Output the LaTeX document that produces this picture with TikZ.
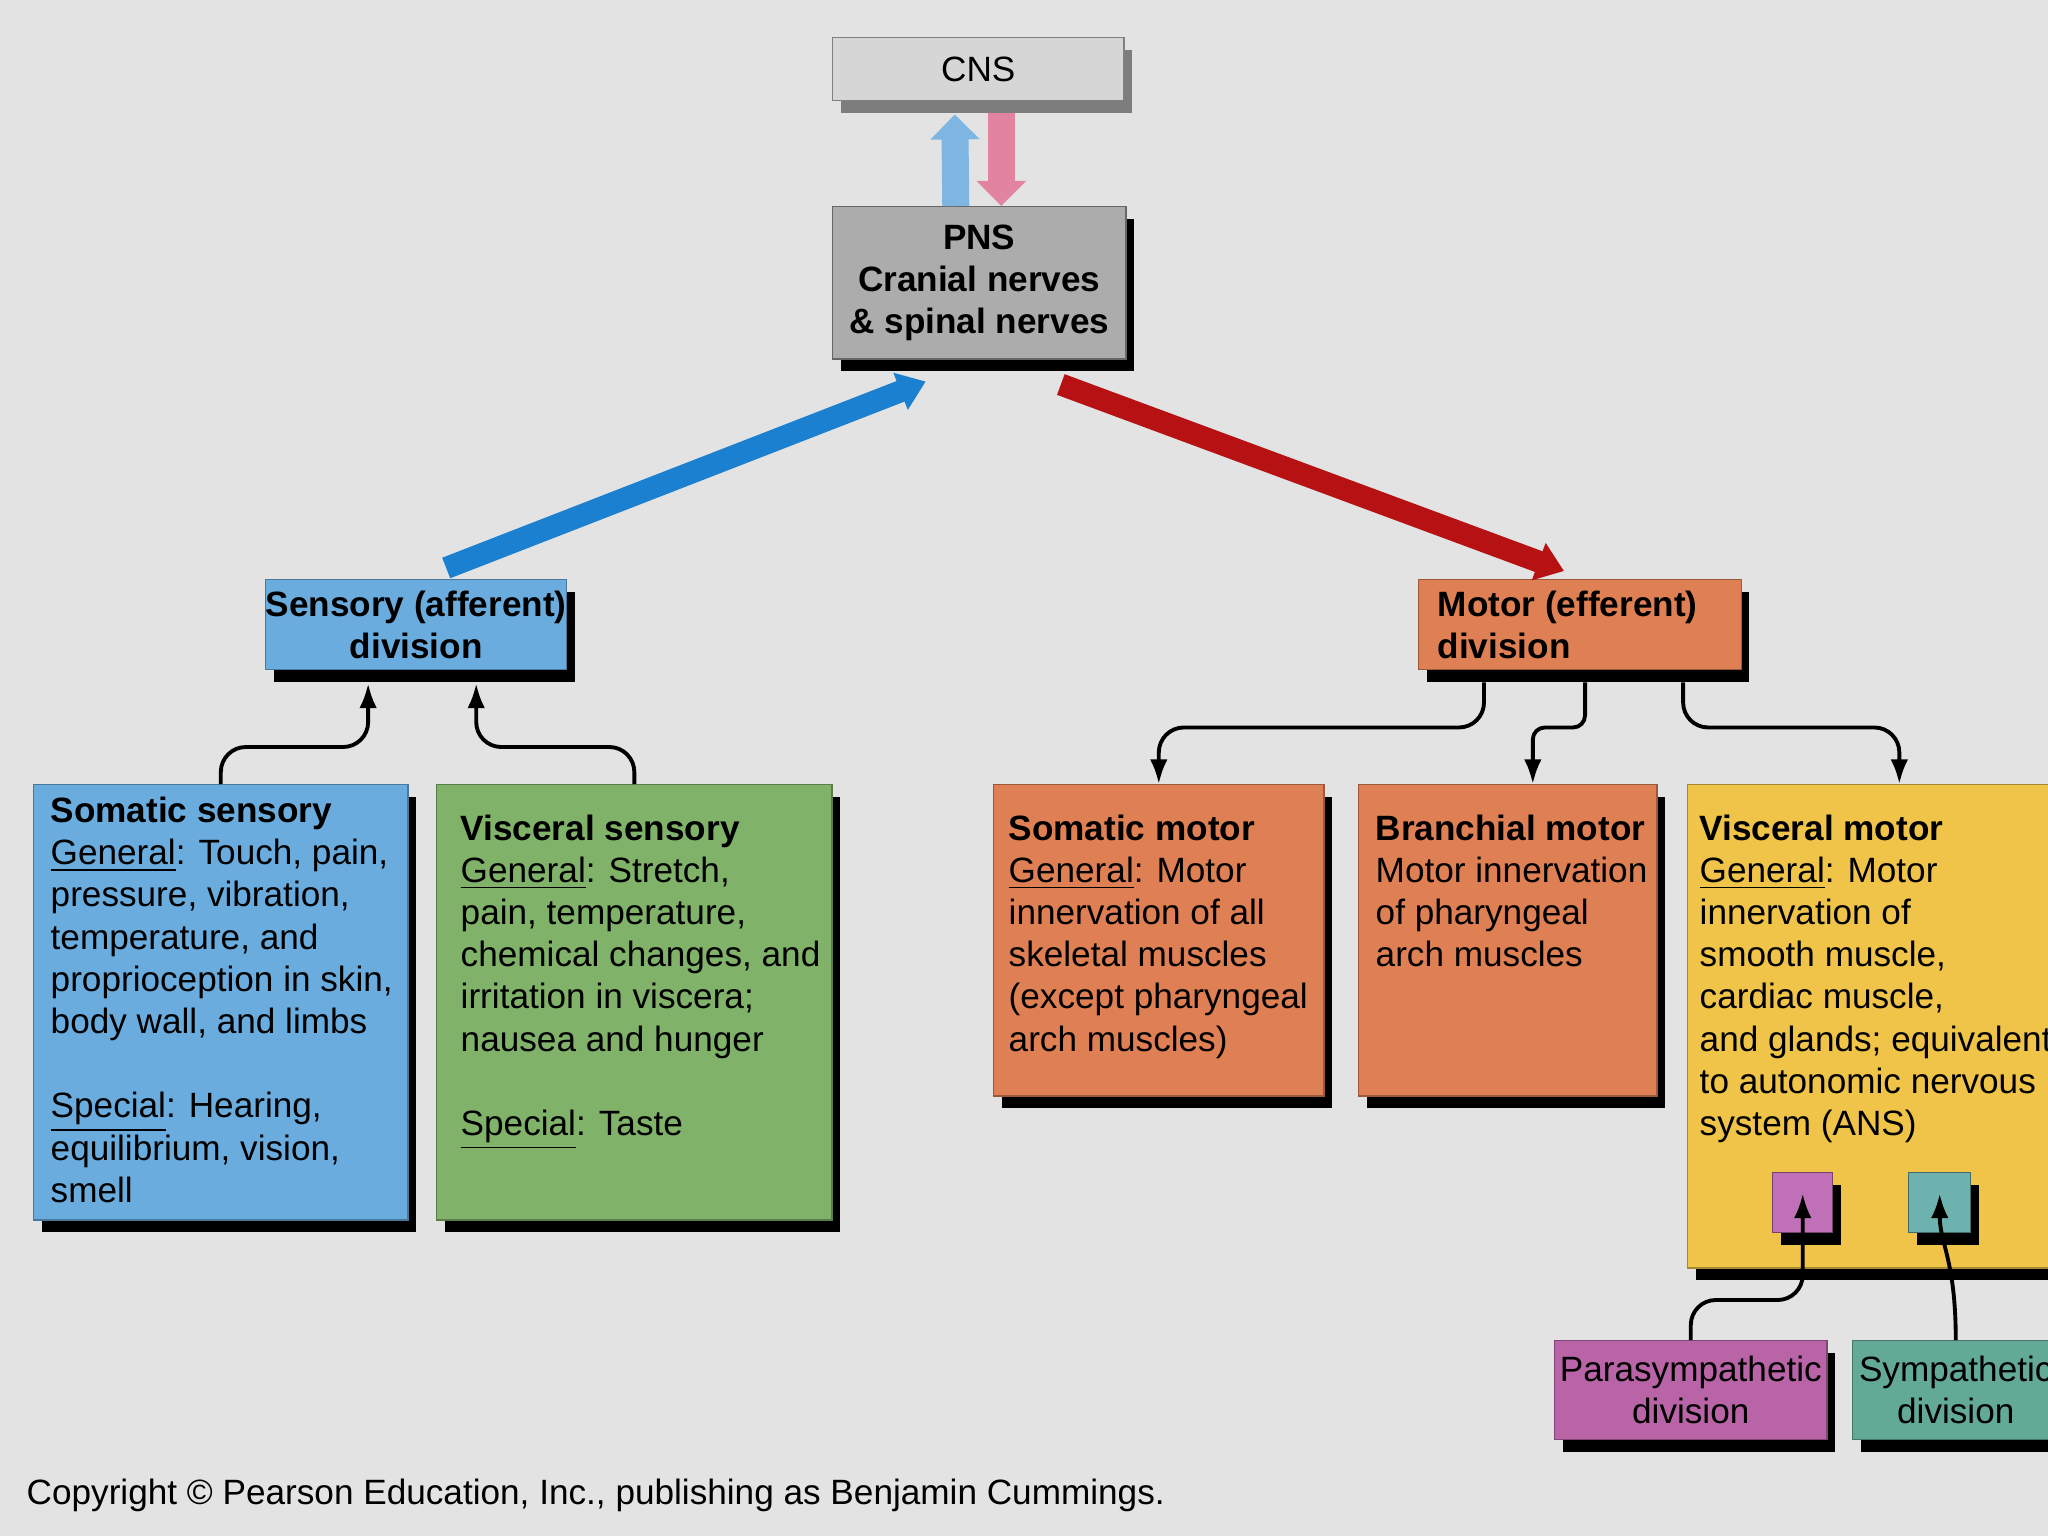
\documentclass[tikz,border=0pt]{standalone}
\usepackage{fontspec}
\setmainfont{Liberation Sans}
\usepackage{tikz}
\usetikzlibrary{arrows.meta,positioning,calc,shadows}
\tikzset{
  dropblack/.style={drop shadow={shadow xshift=0.08cm, shadow yshift=-0.12cm,
                    fill=black, opacity=1}},
  dropgray/.style ={drop shadow={shadow xshift=0.08cm, shadow yshift=-0.12cm,
                    fill=cnsshade, opacity=1}},
  basebox/.style  ={anchor=north west, inner sep=0pt, align=center,
                    font=\fontsize{10}{12}\selectfont, line width=0.4pt},
  cnsbox/.style   ={basebox, dropgray, fill=cnsgray, draw=gray,
                    minimum width=2.91cm, minimum height=0.63cm},
  pnsbox/.style   ={basebox, dropblack, fill=pnsgray, draw=gray!80!black,
                    minimum width=2.93cm, minimum height=1.52cm},
  divbox/.style   ={basebox, dropblack, minimum height=0.90cm},
  panel/.style    ={basebox, dropblack, align=left},
  smallsq/.style  ={basebox, dropblack, minimum width=0.60cm, minimum height=0.60cm},
  subbox/.style   ={basebox, dropblack, minimum height=0.99cm},
  bigarr/.style   ={-{Triangle[width=0.38cm,length=0.27cm]}, line width=0.22cm},
  vertarr/.style  ={-{Triangle[width=0.48cm,length=0.25cm]}, line width=0.27cm},
  link/.style     ={-{Latex[length=7pt,width=5pt]}, line width=1.1pt,
                    rounded corners=0.25cm},
}
\definecolor{bggray}    {RGB}{227,227,227}
\definecolor{cnsgray}   {RGB}{214,214,214}
\definecolor{cnsshade}  {RGB}{125,125,125}
\definecolor{pnsgray}   {RGB}{172,172,172}
\definecolor{sensblue}  {RGB}{106,172,222}
\definecolor{visgreen}  {RGB}{128,178,106}
\definecolor{motorange} {RGB}{222,127,84}
\definecolor{vmyellow}  {RGB}{239,196,72}
\definecolor{parapurple}{RGB}{186,100,168}
\definecolor{sympteal}  {RGB}{98,170,150}
\definecolor{sqpurple}  {RGB}{192,112,182}
\definecolor{sqteal}    {RGB}{110,178,175}
\definecolor{affblue}   {RGB}{28,128,208}
\definecolor{effred}    {RGB}{182,18,20}
\definecolor{upblue}    {RGB}{125,182,226}
\definecolor{downpink}  {RGB}{226,132,160}

\begin{document}
\begin{tikzpicture}[x=0.01cm,y=-0.01cm]
  \useasboundingbox (0,0) rectangle (2048,1536);
  \clip (0,0) rectangle (2048,1536);
  \fill[bggray] (0,0) rectangle (2048,1536);

  % top: CNS and PNS
  \node[cnsbox] (cns) at (832,37) {CNS};
  \node[pnsbox] (pns) at (832,206) {\textbf{PNS}\\\textbf{Cranial nerves}\\\textbf{\& spinal nerves}};
  \draw[vertarr, upblue] ([xshift=-0.235cm]pns.north) -- ([xshift=-0.235cm,yshift=-0.13cm]cns.south);
  \draw[vertarr, downpink] ([xshift=0.23cm,yshift=-0.12cm]cns.south) -- ([xshift=0.22cm]pns.north);

  % divisions
  \node[divbox, fill=sensblue, draw=sensblue!70!black, minimum width=2.99cm] (sens) at (265,579)
    {\textbf{Sensory (afferent)}\\\textbf{division}};
  \node[divbox, fill=motorange, draw=motorange!70!black, minimum width=2.84cm,
        inner xsep=0.19cm, align=left] (mot) at (1418,579)
    {\textbf{Motor (efferent)}\\\textbf{division}\hphantom{ (efferent)}};
  \draw[bigarr, affblue] ([xshift=0.30cm,yshift=0.11cm]sens.north) -- ([xshift=-0.535cm,yshift=-0.22cm]pns.south);
  \draw[bigarr, effred] ([xshift=0.815cm,yshift=-0.25cm]pns.south) -- ([xshift=-0.16cm,yshift=0.08cm]mot.north);

  % sensory panels
  \node[panel, fill=sensblue, draw=sensblue!70!black] (somsens) at (33,784)
    {\parbox[t][4.35cm][t]{3.74cm}{\raggedright\leftskip=0.17cm\vspace*{3.5pt}%
     \textbf{Somatic sensory}\\
     \underline{General}: Touch, pain,\\
     pressure, vibration,\\
     temperature, and\\
     proprioception in skin,\\
     body wall, and limbs\\[12pt]
     \underline{Special}: Hearing,\\
     equilibrium, vision,\\
     smell}};
  \node[panel, fill=visgreen, draw=visgreen!70!black] (vissens) at (436,784)
    {\parbox[t][4.35cm][t]{3.95cm}{\raggedright\leftskip=0.24cm\vspace*{8.5pt}%
     \textbf{Visceral sensory}\\
     \underline{General}: Stretch,\\
     pain, temperature,\\
     chemical changes, and\\
     irritation in viscera;\\
     nausea and hunger\\[12pt]
     \underline{Special}: Taste}};

  % motor panels
  \node[panel, fill=motorange, draw=motorange!70!black] (somot) at (993,784)
    {\parbox[t][3.11cm][t]{3.30cm}{\raggedright\leftskip=0.15cm\vspace*{8.5pt}%
     \textbf{Somatic motor}\\
     \underline{General}: Motor\\
     innervation of all\\
     skeletal muscles\\
     (except pharyngeal\\
     arch muscles)}};
  \node[panel, fill=motorange, draw=motorange!70!black] (bramot) at (1358,784)
    {\parbox[t][3.11cm][t]{2.98cm}{\raggedright\leftskip=0.17cm\vspace*{8.5pt}%
     \textbf{Branchial motor}\\
     Motor innervation\\
     of pharyngeal\\
     arch muscles}};
  \node[panel, fill=vmyellow, draw=vmyellow!70!black] (vismot) at (1687,784)
    {\parbox[t][4.83cm][t]{4.23cm}{\raggedright\leftskip=0.12cm\vspace*{8.5pt}%
     \textbf{Visceral motor}\\
     \underline{General}: Motor\\
     innervation of\\
     smooth muscle,\\
     cardiac muscle,\\
     and glands; equivalent\\
     to autonomic nervous\\
     system (ANS)}};
  \node[smallsq, fill=sqpurple, draw=sqpurple!60!black] (psq) at (1772,1172) {};
  \node[smallsq, fill=sqteal, draw=sqteal!60!black, minimum width=0.62cm] (tsq) at (1908,1172) {};

  % ANS divisions
  \node[subbox, fill=parapurple, draw=parapurple!70!black, minimum width=2.72cm] (para) at (1554,1340)
    {Parasympathetic\\division};
  \node[subbox, fill=sympteal, draw=sympteal!70!black, minimum width=2.06cm] (symp) at (1852,1340)
    {Sympathetic\\division};

  % connectors
  \draw[link] (somsens.north) -- ++(0,-37) -| ([xshift=-0.48cm,yshift=-0.13cm]sens.south);
  \draw[link] (vissens.north) -- ++(0,-37) -| ([xshift=0.60cm,yshift=-0.13cm]sens.south);
  \draw[link] ([xshift=-0.96cm,yshift=-0.12cm]mot.south) -- ++(0,45) -| (somot.north);
  \draw[link, rounded corners=0.12cm] ([xshift=0.05cm,yshift=-0.12cm]mot.south) -- ++(0,45) -| ([xshift=0.25cm]bramot.north);
  \draw[link] ([xshift=1.03cm,yshift=-0.12cm]mot.south) -- ++(0,45) -| (vismot.north);
  \draw[link] (para.north) -- ++(0,-40) -| ($(psq.north)!0.35!(psq.south)$);
  \draw[link] (symp.north) .. controls +(0,-80) and +(0,50) .. ($(tsq.north)!0.35!(tsq.south)$);

  \node[basebox, anchor=west] (copy) at (26,1495)
    {Copyright \textcopyright{} Pearson Education, Inc., publishing as Benjamin Cummings.};
\end{tikzpicture}
\end{document}
